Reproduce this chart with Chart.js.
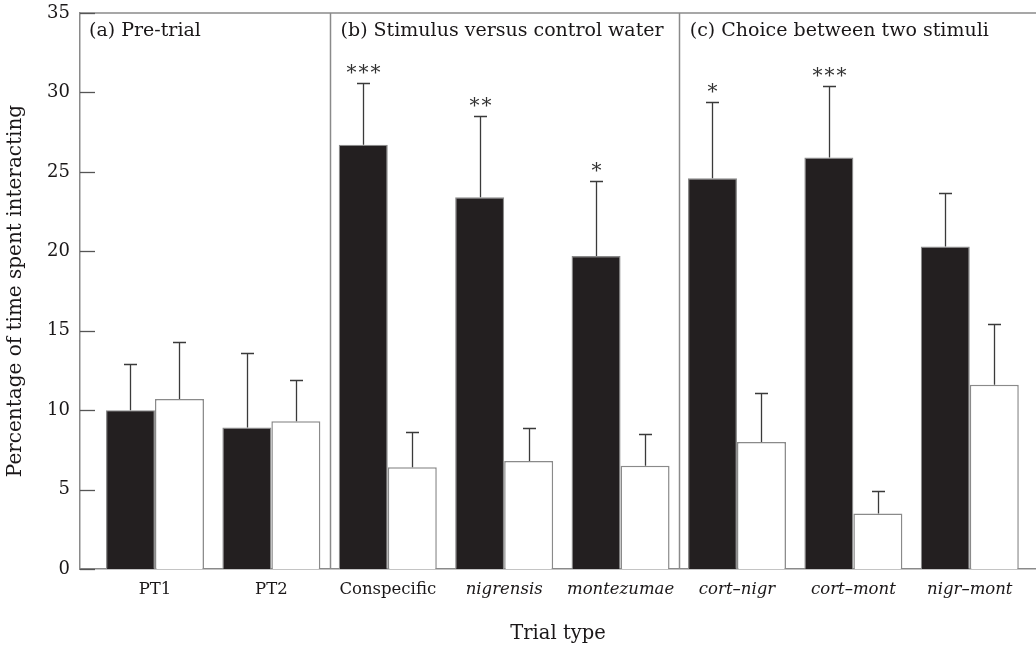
<!DOCTYPE html>
<html>
<head>
<meta charset="utf-8">
<script src="https://cdn.jsdelivr.net/npm/chart.js@4.4.1/dist/chart.umd.min.js"></script>
<style>
  html, body { margin: 0; padding: 0; background: #ffffff; }
  #wrap { width: 1036px; height: 648px; position: relative; }
</style>
</head>
<body>
<div id="wrap"><canvas id="c" width="1036" height="648"></canvas></div>
<script>
// ---- data ----
const categories = ['PT1', 'PT2', 'Conspecific', 'nigrensis', 'montezumae', 'cort\u2013nigr', 'cort\u2013mont', 'nigr\u2013mont'];
const italicCategories = [false, false, false, true, true, true, true, true];
const stimulusMean = [10.0, 8.9, 26.7, 23.4, 19.7, 24.6, 25.9, 20.3];
const stimulusSE   = [2.9, 4.7, 3.9, 5.1, 4.7, 4.8, 4.5, 3.4];
const controlMean  = [10.7, 9.3, 6.4, 6.8, 6.5, 8.0, 3.5, 11.6];
const controlSE    = [3.6, 2.6, 2.2, 2.1, 2.0, 3.1, 1.4, 3.8];
const significance = ['', '', '***', '**', '*', '*', '***', ''];
const panelTitles  = ['(a) Pre-trial', '(b) Stimulus versus control water', '(c) Choice between two stimuli'];
const panelStarts  = [-0.5, 1.5, 4.5];   // category boundaries where panels begin
const yTicks = [0, 5, 10, 15, 20, 25, 30, 35];

const FONT = "'DejaVu Serif', serif";
const TEXT = '#1a1718';
const GRAY = '#8a8a8a';

const errs = [stimulusSE, controlSE];

const overlay = {
  id: 'overlay',
  beforeDatasetsDraw(chart) {
    const { ctx, chartArea: a, scales: { x } } = chart;
    ctx.save();
    ctx.strokeStyle = GRAY;
    ctx.lineWidth = 1.5;
    ctx.beginPath();
    ctx.moveTo(a.left, a.top);
    ctx.lineTo(chart.width, a.top);
    ctx.stroke();
    panelStarts.slice(1).forEach(v => {
      const px = Math.round(x.getPixelForValue(v)) + 0.5;
      ctx.beginPath();
      ctx.moveTo(px, a.top);
      ctx.lineTo(px, a.bottom);
      ctx.stroke();
    });
    ctx.restore();
  },
  afterDatasetsDraw(chart) {
    const { ctx, chartArea: a, scales: { x, y } } = chart;
    ctx.save();
    // inward y ticks
    ctx.strokeStyle = '#555';
    ctx.lineWidth = 1.3;
    y.ticks.forEach(t => {
      const py = Math.round(y.getPixelForValue(t.value)) + 0.5;
      ctx.beginPath();
      ctx.moveTo(a.left, py);
      ctx.lineTo(a.left + 15, py);
      ctx.stroke();
    });
    // error bars + significance
    ctx.strokeStyle = '#3a3a3a';
    ctx.lineWidth = 1.3;
    chart.data.datasets.forEach((ds, di) => {
      const meta = chart.getDatasetMeta(di);
      meta.data.forEach((bar, i) => {
        const mean = ds.data[i].y;
        const topPx = Math.round(y.getPixelForValue(mean + errs[di][i])) + 0.5;
        const basePx = y.getPixelForValue(mean);
        const cx = Math.round(bar.x) + 0.5;
        ctx.beginPath();
        ctx.moveTo(cx, basePx);
        ctx.lineTo(cx, topPx);
        ctx.moveTo(cx - 6.5, topPx);
        ctx.lineTo(cx + 6.5, topPx);
        ctx.stroke();
        if (di === 0 && significance[i]) {
          ctx.fillStyle = '#333';
          ctx.font = "20px " + FONT;
          ctx.letterSpacing = '2px';
          ctx.textAlign = 'center';
          ctx.textBaseline = 'alphabetic';
          ctx.fillText(significance[i], cx + 1, topPx - 4.5);
          ctx.letterSpacing = '0px';
        }
      });
    });
    // panel titles
    ctx.fillStyle = TEXT;
    ctx.font = "19px " + FONT;
    ctx.textAlign = 'left';
    ctx.textBaseline = 'middle';
    panelTitles.forEach((t, k) => {
      const px = k === 0 ? a.left + 9 : x.getPixelForValue(panelStarts[k]) + 11;
      ctx.fillText(t, px, a.top + 18);
    });
    ctx.restore();
  }
};

new Chart(document.getElementById('c'), {
  type: 'bar',
  data: {
    datasets: [
      {
        label: 'Stimulus',
        data: stimulusMean.map((v, i) => ({ x: i, y: v })),
        backgroundColor: '#231f20',
        borderColor: GRAY,
        borderWidth: 1.2
      },
      {
        label: 'Control',
        data: controlMean.map((v, i) => ({ x: i, y: v })),
        backgroundColor: '#ffffff',
        borderColor: GRAY,
        borderWidth: 1.5
      }
    ]
  },
  options: {
    responsive: false,
    animation: false,
    devicePixelRatio: 1,
    layout: { padding: { top: 13, right: 0, left: 0, bottom: 0 } },
    plugins: { legend: { display: false }, tooltip: { enabled: false } },
    datasets: { bar: { categoryPercentage: 0.842, barPercentage: 1.0 } },
    scales: {
      x: {
        type: 'linear',
        min: -0.644,
        max: 7.569,
        offset: false,
        grid: { display: false, drawTicks: false },
        border: { display: true, color: GRAY, width: 1.5 },
        afterBuildTicks: s => { s.ticks = categories.map((c, i) => ({ value: i })); },
        afterFit: s => { s.height = 79; s.paddingLeft = 0; s.paddingRight = 0; },
        ticks: {
          autoSkip: false,
          maxRotation: 0,
          padding: 11,
          color: TEXT,
          font: ctx => ({ family: FONT, size: 16.5, style: italicCategories[ctx.index] ? 'italic' : 'normal' }),
          callback: (v, i) => categories[i]
        },
        title: {
          display: true,
          text: 'Trial type',
          color: TEXT,
          font: { family: FONT, size: 19.5 },
          padding: { top: 0, bottom: 2 }
        }
      },
      y: {
        min: 0,
        max: 35,
        grid: { display: false, drawTicks: false },
        border: { display: true, color: GRAY, width: 1.5 },
        afterBuildTicks: s => { s.ticks = yTicks.map(v => ({ value: v })); },
        afterFit: s => { s.width = 80; s.paddingTop = 0; s.paddingBottom = 0; },
        ticks: {
          padding: 10,
          color: TEXT,
          font: { family: FONT, size: 18 }
        },
        title: {
          display: true,
          text: 'Percentage of time spent interacting',
          color: TEXT,
          font: { family: FONT, size: 20 },
          padding: { top: 4, bottom: 0 }
        }
      }
    }
  },
  plugins: [overlay]
});
</script>
</body>
</html>
